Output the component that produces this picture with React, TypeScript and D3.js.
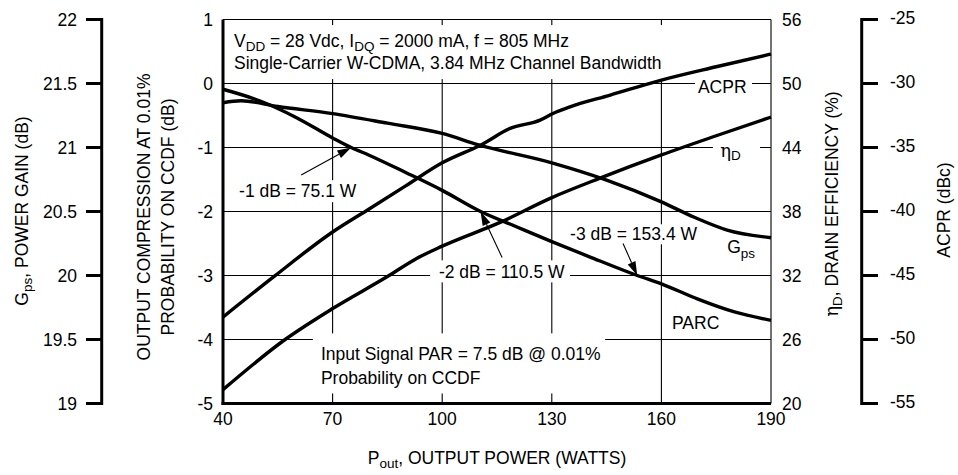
import React from 'react';
import * as d3 from 'd3';

// ---------- data ----------
const powerTicks = [40, 70, 100, 130, 160, 190];
const compTicks = [1, 0, -1, -2, -3, -4, -5];
const gpsTicks = [22, 21.5, 21, 20.5, 20, 19.5, 19];
const effTicks = [56, 50, 44, 38, 32, 26, 20];
const acprTicks = [-25, -30, -35, -40, -45, -50, -55];

const parcPower = [40, 50, 60, 70, 75.1, 80, 90, 100, 110.5, 120, 130, 140, 153.4, 160, 170, 180, 190];
const parcDb = [-0.09, -0.27, -0.53, -0.85, -1.0, -1.12, -1.39, -1.67, -2.0, -2.23, -2.47, -2.7, -3.0, -3.13, -3.37, -3.57, -3.7];

const gpsPower = [40, 45, 55, 70, 85, 100, 110, 130, 145, 160, 169, 178, 190];
const gpsDb = [21.35, 21.365, 21.32, 21.265, 21.19, 21.11, 21.02, 20.88, 20.745, 20.575, 20.455, 20.355, 20.295];

const effPower = [40, 57, 70, 85, 93, 100, 116, 130, 143, 160, 175, 190];
const effPct = [21.3, 26.0, 28.9, 31.9, 33.6, 34.75, 37.0, 39.3, 41.1, 43.3, 45.1, 46.85];

const acprPower = [40, 54, 70, 80, 90, 100, 111, 118.6, 126.8, 130.3, 135, 146, 160, 175, 190];
const acprDbc = [-48.25, -45.07, -41.6, -39.8, -38.0, -36.2, -34.74, -33.51, -32.86, -32.34, -31.82, -30.91, -29.73, -28.69, -27.7];

// annotation arrows: [tailPower, tailDb, tipPower, tipDb]
const arrows = [
  [61.4, -1.43, 75.1, -1.0],
  [116.4, -2.72, 110.5, -2.0],
  [149.5, -2.5, 153.4, -3.0],
];

// white label backgrounds (power0, power1, db0, db1)
const labelBoxes = [
  [40, 162.9, 0.913, 0.069],
  [64.6, 144.6, -3.904, -4.843],
  [43.6, 77.0, -1.511, -1.855],
  [96.7, 135.0, -2.763, -3.107],
  [133.6, 170.6, -2.2, -2.512],
  [169.2, 184.8, 0.116, -0.228],
  [174.1, 187.0, -0.885, -1.29],
];

const FONT = "'Liberation Sans', Arial, Helvetica, sans-serif";
const FS = 17.5;
const SUB = 13.5;

export default function App() {
  const x = d3.scaleLinear().domain([40, 190]).range([223, 771]);
  const yC = d3.scaleLinear().domain([-5, 1]).range([403.5, 19.5]);
  const yG = d3.scaleLinear().domain([19, 22]).range([403.5, 19.5]);
  const yE = d3.scaleLinear().domain([20, 56]).range([403.5, 19.5]);
  const yA = d3.scaleLinear().domain([-55, -25]).range([403.5, 19.5]);

  const mk = (xs: number[], ys: number[], ys2: any) =>
    d3
      .line<number>()
      .x((i) => x(xs[i]))
      .y((i) => ys2(ys[i]))
      .curve(d3.curveMonotoneX)(xs.map((_, i) => i)) as string;

  const curves = [
    mk(parcPower, parcDb, yC),
    mk(gpsPower, gpsDb, yG),
    mk(effPower, effPct, yE),
    mk(acprPower, acprDbc, yA),
  ];

  const left = x(40), right = x(190), top = yC(1), bottom = yC(-5);

  const arrowEls = arrows.map((a, i) => {
    const x1 = x(a[0]), y1 = yC(a[1]), x2 = x(a[2]), y2 = yC(a[3]);
    const ang = Math.atan2(y2 - y1, x2 - x1);
    const L = 14, Wd = 4.2;
    const bx = x2 - L * Math.cos(ang), by = y2 - L * Math.sin(ang);
    const px = -Math.sin(ang) * Wd, py = Math.cos(ang) * Wd;
    return (
      <g key={i}>
        <line x1={x1} y1={y1} x2={bx} y2={by} stroke="#000" strokeWidth={1.1} />
        <polygon points={`${x2},${y2} ${bx + px},${by + py} ${bx - px},${by - py}`} fill="#000" />
      </g>
    );
  });

  return (
    <svg
      width={958}
      height={475}
      style={{ position: 'absolute', left: 0, top: 0, background: '#fff' }}
      fontFamily={FONT}
      fontSize={FS}
    >
      <rect x={0} y={0} width={958} height={475} fill="#fff" />
      {/* grid */}
      {powerTicks.slice(1, -1).map((p) => (
        <line key={'v' + p} x1={x(p)} x2={x(p)} y1={top} y2={bottom} stroke="#000" strokeWidth={1.1} />
      ))}
      {compTicks.slice(1, -1).map((t) => (
        <line key={'h' + t} x1={left} x2={right} y1={yC(t)} y2={yC(t)} stroke="#000" strokeWidth={1.1} />
      ))}
      <line x1={left} x2={right} y1={top} y2={top} stroke="#000" strokeWidth={1.1} />
      <line x1={right} x2={right} y1={top} y2={bottom} stroke="#000" strokeWidth={1.1} />

      {/* label backgrounds */}
      {labelBoxes.map((b, i) => (
        <rect
          key={'b' + i}
          x={x(b[0]) + (i === 0 ? 2 : 0)}
          y={yC(b[2])}
          width={x(b[1]) - x(b[0]) - (i === 0 ? 2 : 0)}
          height={yC(b[3]) - yC(b[2])}
          fill="#fff"
        />
      ))}

      {/* main axes */}
      <line x1={left} x2={left} y1={top} y2={bottom + 1.5} stroke="#000" strokeWidth={3} />
      <line x1={left - 1.5} x2={right} y1={bottom} y2={bottom} stroke="#000" strokeWidth={3} />

      {/* curves */}
      {curves.map((d, i) => (
        <path key={'c' + i} d={d} fill="none" stroke="#000" strokeWidth={3.4} strokeLinejoin="round" />
      ))}

      {arrowEls}

      {/* left compression ticks */}
      {compTicks.map((t) => (
        <text key={'ct' + t} x={213} y={yC(t)} textAnchor="end" dominantBaseline="central">
          {String(t)}
        </text>
      ))}
      {/* x ticks */}
      {powerTicks.map((p) => (
        <text key={'xt' + p} x={x(p)} y={425} textAnchor="middle">
          {String(p)}
        </text>
      ))}
      {/* Gps axis */}
      <line x1={101.7} x2={101.7} y1={top - 1.5} y2={bottom + 1.5} stroke="#000" strokeWidth={3} />
      {gpsTicks.map((t) => (
        <g key={'gt' + t}>
          <line x1={86} x2={101.7} y1={yG(t)} y2={yG(t)} stroke="#000" strokeWidth={3} />
          <text x={77} y={yG(t)} textAnchor="end" dominantBaseline="central">
            {String(t)}
          </text>
        </g>
      ))}
      {/* efficiency ticks */}
      {effTicks.map((t) => (
        <text key={'et' + t} x={782} y={yE(t)} dominantBaseline="central">
          {String(t)}
        </text>
      ))}
      {/* ACPR axis */}
      <line x1={861.7} x2={861.7} y1={top - 1.5} y2={bottom + 1.5} stroke="#000" strokeWidth={3} />
      {acprTicks.map((t) => (
        <g key={'at' + t}>
          <line x1={861.7} x2={878} y1={yA(t)} y2={yA(t)} stroke="#000" strokeWidth={3} />
          <text x={890} y={yA(t) - 2} dominantBaseline="central">
            {String(t)}
          </text>
        </g>
      ))}

      {/* axis titles */}
      <text transform="translate(28,211) rotate(-90)" textAnchor="middle">
        <tspan>G</tspan>
        <tspan fontSize={SUB} dy={4}>ps</tspan>
        <tspan dy={-4}>, POWER GAIN (dB)</tspan>
      </text>
      <text transform="translate(150,217) rotate(-90)" textAnchor="middle">
        OUTPUT COMPRESSION AT 0.01%
      </text>
      <text transform="translate(174,217) rotate(-90)" textAnchor="middle">
        PROBABILITY ON CCDF (dB)
      </text>
      <text transform="translate(838,204) rotate(-90)" textAnchor="middle">
        <tspan fontFamily="'DejaVu Serif', serif" fontSize={18}>η</tspan>
        <tspan fontSize={SUB} dy={4}>D</tspan>
        <tspan dy={-4}>, DRAIN EFFICIENCY (%)</tspan>
      </text>
      <text transform="translate(950,210) rotate(-90)" textAnchor="middle">
        ACPR (dBc)
      </text>
      <text x={497} y={464} textAnchor="middle">
        <tspan>P</tspan>
        <tspan fontSize={SUB} dy={4}>out</tspan>
        <tspan dy={-4}>, OUTPUT POWER (WATTS)</tspan>
      </text>

      {/* annotations */}
      <text x={x(43.0)} y={yC(0.569)}>
        <tspan>V</tspan>
        <tspan fontSize={SUB} dy={4}>DD</tspan>
        <tspan dy={-4}> = 28 Vdc, I</tspan>
        <tspan fontSize={SUB} dy={4}>DQ</tspan>
        <tspan dy={-4}> = 2000 mA, f = 805 MHz</tspan>
      </text>
      <text x={x(43.0)} y={yC(0.233)}>Single-Carrier W-CDMA, 3.84 MHz Channel Bandwidth</text>
      <text x={x(66.8)} y={yC(-4.327)}>Input Signal PAR = 7.5 dB @ 0.01%</text>
      <text x={x(66.8)} y={yC(-4.7)}>Probability on CCDF</text>
      <text x={x(44.4)} y={yC(-1.777)}>-1 dB = 75.1 W</text>
      <text x={x(99.1)} y={yC(-3.04)}>-2 dB = 110.5 W</text>
      <text x={x(135.0)} y={yC(-2.45)}>-3 dB = 153.4 W</text>
      <text x={x(170.0)} y={yC(-0.155)}>ACPR</text>
      <text x={x(176.1)} y={yC(-1.15)}>
        <tspan fontFamily="'DejaVu Serif', serif" fontSize={18}>η</tspan>
        <tspan fontSize={SUB} dy={3}>D</tspan>
      </text>
      <text x={x(178.0)} y={yC(-2.65)}>
        <tspan>G</tspan>
        <tspan fontSize={SUB} dy={5}>ps</tspan>
      </text>
      <text x={x(162.9)} y={yC(-3.83)}>PARC</text>
    </svg>
  );
}
